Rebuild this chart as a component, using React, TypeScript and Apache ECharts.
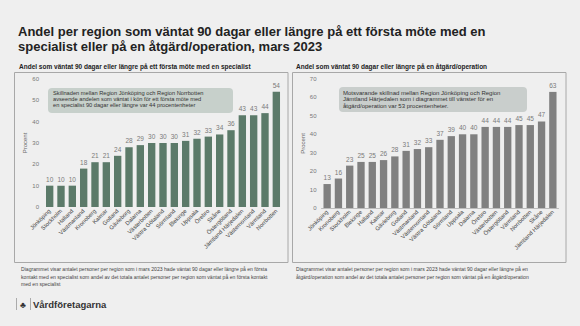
import React, { useEffect, useRef } from "react";
import * as echarts from "echarts";

const leftCategories = ["Jönköping", "Stockholm", "Halland", "Västmanland", "Kronoberg", "Kalmar", "Gotland", "Gävleborg", "Dalarna", "Västerbotten", "Västra Götaland", "Sörmland", "Blekinge", "Uppsala", "Örebro", "Skåne", "Östergötland", "Jämtland Härjedalen", "Västernorrland", "Värmland", "Norrbotten"];
const leftValues = [10, 10, 10, 18, 21, 21, 24, 28, 29, 30, 30, 30, 31, 32, 33, 34, 36, 43, 43, 44, 54];

const rightCategories = ["Jönköping", "Kronoberg", "Stockholm", "Blekinge", "Halland", "Kalmar", "Gävleborg", "Gotland", "Västmanland", "Västernorrland", "Västra Götaland", "Sörmland", "Uppsala", "Dalarna", "Örebro", "Västerbotten", "Östergötland", "Värmland", "Norrbotten", "Skåne", "Jämtland Härjedalen"];
const rightValues = [13, 16, 23, 25, 25, 26, 28, 31, 32, 33, 37, 39, 40, 40, 44, 44, 44, 45, 45, 47, 63];

const FONT = "Liberation Sans, Arial, sans-serif";

export default function App() {
  const ref = useRef<HTMLDivElement>(null);
  useEffect(() => {
    if (!ref.current) return;
    const chart = echarts.init(ref.current, null, { renderer: "svg" });
    const axisLabel = { fontSize: 6, color: "#777", fontFamily: FONT, margin: 5 };
    const xLabel = { fontSize: 5.8, color: "#444", fontFamily: FONT, rotate: 45, interval: 0, margin: 3 };
    const txt = (x: number, y: number, text: string, size: number, opts: any = {}) => ({
      type: "text",
      x,
      y,
      style: { text, fontSize: size, fontFamily: FONT, fill: "#222", textVerticalAlign: "middle", ...opts },
    });
    const barLabel = { show: true, position: "top", distance: 3, fontSize: 6.5, color: "#7a7a7a", fontFamily: FONT };
    chart.setOption({
      animation: false,
      backgroundColor: "#efefef",
      grid: [
        { left: 44, right: 298, top: 79, bottom: 119 },
        { left: 321.5, right: 21.5, top: 79, bottom: 118 },
      ],
      xAxis: [
        {
          type: "category", gridIndex: 0, data: leftCategories,
          axisTick: { show: false }, axisLine: { show: false }, axisLabel: xLabel,
        },
        {
          type: "category", gridIndex: 1, data: rightCategories,
          axisTick: { show: false }, axisLine: { show: true, lineStyle: { color: "#999", width: 0.6 } }, axisLabel: xLabel,
        },
      ],
      yAxis: [
        {
          type: "value", gridIndex: 0, min: 0, max: 60, interval: 10,
          splitLine: { show: false }, axisLabel,
          name: "Procent", nameLocation: "middle", nameGap: 15,
          nameTextStyle: { fontSize: 6, color: "#666", fontFamily: FONT },
        },
        {
          type: "value", gridIndex: 1, min: 0, max: 70, interval: 10,
          splitLine: { show: false }, axisLabel,
          name: "Procent", nameLocation: "middle", nameGap: 15,
          nameTextStyle: { fontSize: 6, color: "#666", fontFamily: FONT },
        },
      ],
      series: [
        {
          type: "bar", xAxisIndex: 0, yAxisIndex: 0, data: leftValues, barCategoryGap: "35%",
          itemStyle: { color: "#5b7a69" }, label: barLabel,
        },
        {
          type: "bar", xAxisIndex: 1, yAxisIndex: 1, data: rightValues, barCategoryGap: "35%",
          itemStyle: { color: "#808080" }, label: barLabel,
        },
      ],
      graphic: [
        txt(18, 31, "Andel per region som väntat 90 dagar eller längre på ett första möte med en", 13, { fontWeight: "bold" }),
        txt(18, 46, "specialist eller på en åtgärd/operation, mars 2023", 13, { fontWeight: "bold" }),
        txt(19, 66, "Andel som väntat 90 dagar eller längre på ett första möte med en specialist", 6.5, { fontWeight: "bold" }),
        txt(296, 66, "Andel som väntat 90 dagar eller längre på en åtgärd/operation", 6.5, { fontWeight: "bold" }),
        { type: "rect", shape: { x: 14.5, y: 72.5, width: 273.5, height: 190 }, style: { fill: "none", stroke: "#a8a8a8", lineWidth: 1 } },
        { type: "rect", shape: { x: 292.5, y: 72.5, width: 273.5, height: 190 }, style: { fill: "none", stroke: "#a8a8a8", lineWidth: 1 } },
        { type: "rect", shape: { x: 48, y: 88, width: 185, height: 25, r: 4 }, style: { fill: "#c7d0cb" } },
        { type: "rect", shape: { x: 339, y: 87, width: 188, height: 25, r: 4 }, style: { fill: "#c9cecc" } },
        txt(53, 93, "Skillnaden mellan Region Jönköping och Region Norrbotten", 5.7, { fill: "#333" }),
        txt(53, 98.8, "avseende andelen som väntat i kön för ett första möte med", 5.7, { fill: "#333" }),
        txt(53, 104.6, "en specialist 90 dagar eller längre var 44 procentenheter", 5.7, { fill: "#333" }),
        txt(343, 92.5, "Motsvarande skillnad mellan Region Jönköping och Region", 6, { fill: "#333" }),
        txt(343, 99, "Jämtland Härjedalen som i diagrammet till vänster för en", 6, { fill: "#333" }),
        txt(343, 105.5, "åtgärd/operation var 53 procentenheter.", 6, { fill: "#333" }),
        txt(21, 269.3, "Diagrammet visar antalet personer per region som i mars 2023 hade väntat 90 dagar eller längre på en första", 5.1, { fill: "#444" }),
        txt(21, 276.7, "kontakt med en specialist som andel av det totala antalet personer per region som väntat på en första kontakt", 5.1, { fill: "#444" }),
        txt(21, 284, "med en specialist", 5.1, { fill: "#444" }),
        txt(296, 269.3, "Diagrammet visar antalet personer per region som i mars 2023 hade väntat 90 dagar eller längre på en", 5.1, { fill: "#444" }),
        txt(296, 276.7, "åtgärd/operation som andel av det totala antalet personer per region som väntat på en åtgärd/operation", 5.1, { fill: "#444" }),
        { type: "line", shape: { x1: 16.5, y1: 298, x2: 16.5, y2: 310 }, style: { stroke: "#999", lineWidth: 0.8 } },
        txt(20, 304.5, "♣", 9, { fill: "#333", fontWeight: "bold" }),
        { type: "line", shape: { x1: 30.5, y1: 298, x2: 30.5, y2: 310 }, style: { stroke: "#999", lineWidth: 0.8 } },
        txt(33, 304.5, "Vårdföretagarna", 9.5, { fill: "#333", fontWeight: "bold" }),
      ],
    });
    return () => chart.dispose();
  }, []);
  return <div ref={ref} style={{ position: "fixed", left: 0, top: 0, width: 580, height: 326 }} />;
}
